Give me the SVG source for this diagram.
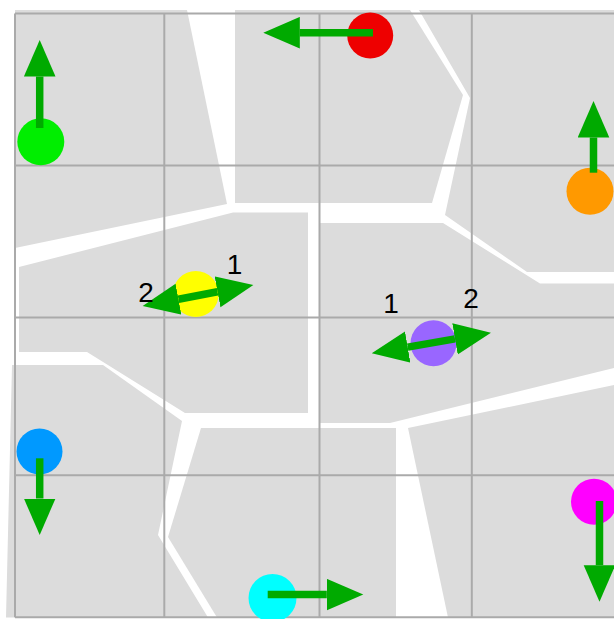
<svg xmlns="http://www.w3.org/2000/svg" width="614" height="619" viewBox="0 0 614 619">
<style>
.cell{fill:#dcdcdc;stroke:none}
.grid line{stroke:#aaaaaa;stroke-width:2}
.dot{stroke:none}
.arr{stroke:#00aa00;stroke-width:7.5;fill:none;stroke-linecap:butt}
.lbl{font-family:"Liberation Sans",Arial,sans-serif;font-size:28px;fill:#000;text-anchor:middle}
</style>
<defs>
<marker id="head" markerUnits="userSpaceOnUse" markerWidth="37" markerHeight="32" refX="0" refY="15.8" orient="auto-start-reverse">
<path d="M0,0 L36.5,15.8 L0,31.6 Z" fill="#00aa00"/>
</marker>
</defs>
<rect width="614" height="619" fill="#ffffff"/>
<g id="cells">
<polygon id="cell-green" class="cell" points="15,10 187,10 227,204 15,248"/>
<polygon id="cell-red" class="cell" points="235,10 410,10 463,95 432,203 235,203"/>
<polygon id="cell-orange" class="cell" points="419,10 614,10 614,272 527,272 445,215 470,98"/>
<polygon id="cell-yellow" class="cell" points="19,267 233,212.5 308,212.5 308,413 185,413 87,352 19,352"/>
<polygon id="cell-purple" class="cell" points="320,223 443,223 540,283.5 614,283.5 614,368 390,423 320,423"/>
<polygon id="cell-blue" class="cell" points="12,365 103,365 182,421 158,535 208,617.5 6,617.5"/>
<polygon id="cell-cyan" class="cell" points="201,428 396,428 396,617.5 217,617.5 168,537"/>
<polygon id="cell-magenta" class="cell" points="408,428 614,385 614,617.5 448,617.5"/>
</g>
<g class="grid" id="grid">
<line x1="15" y1="13.5" x2="614" y2="13.5"/>
<line x1="15" y1="165.5" x2="614" y2="165.5"/>
<line x1="15" y1="317.5" x2="614" y2="317.5"/>
<line x1="15" y1="475.3" x2="614" y2="475.3"/>
<line x1="15" y1="617.3" x2="614" y2="617.3"/>
<line x1="15" y1="13.5" x2="15" y2="617.3"/>
<line x1="164.3" y1="13.5" x2="164.3" y2="617.3"/>
<line x1="319.5" y1="13.5" x2="319.5" y2="617.3"/>
<line x1="471.8" y1="13.5" x2="471.8" y2="617.3"/>
</g>
<g id="node-green"><circle class="dot" cx="40.8" cy="141.8" r="23.5" fill="#00ee00"/></g>
<g id="node-red"><circle class="dot" cx="370.2" cy="35.5" r="23" fill="#ee0000"/></g>
<g id="node-orange"><circle class="dot" cx="590" cy="191.3" r="23.5" fill="#ff9900"/></g>
<g id="node-yellow"><circle class="dot" cx="195.8" cy="294" r="23" fill="#ffff00"/></g>
<g id="node-purple"><circle class="dot" cx="433.5" cy="343.3" r="23" fill="#9966ff"/></g>
<g id="node-blue"><circle class="dot" cx="39.5" cy="451.5" r="23" fill="#0099ff"/></g>
<g id="node-magenta"><circle class="dot" cx="594" cy="501.7" r="23" fill="#ff00ff"/></g>
<g id="node-cyan"><circle class="dot" cx="272.5" cy="598" r="24" fill="#00ffff"/></g>
<g id="connectors">
<line class="arr" x1="39.7" y1="128" x2="39.7" y2="76.5" marker-end="url(#head)"/>
<line class="arr" x1="373" y1="32.7" x2="299.8" y2="32.7" marker-end="url(#head)"/>
<line class="arr" x1="593.5" y1="172.7" x2="593.5" y2="137.5" marker-end="url(#head)"/>
<line class="arr" x1="39.7" y1="458.3" x2="39.7" y2="498.5" marker-end="url(#head)"/>
<line class="arr" x1="599.5" y1="501" x2="599.5" y2="565.2" marker-end="url(#head)"/>
<line class="arr" x1="267.7" y1="594.6" x2="326.8" y2="594.6" marker-end="url(#head)"/>
<line class="arr" x1="178.5" y1="299.2" x2="217.5" y2="291.8" marker-start="url(#head)" marker-end="url(#head)"/>
<line class="arr" x1="407.7" y1="347.1" x2="455" y2="338.9" marker-start="url(#head)" marker-end="url(#head)"/>
</g>
<g id="labels">
<text class="lbl" x="234.5" y="274">1</text>
<text class="lbl" x="146" y="301.7">2</text>
<text class="lbl" x="391" y="313.3">1</text>
<text class="lbl" x="471" y="308.3">2</text>
</g>
</svg>
